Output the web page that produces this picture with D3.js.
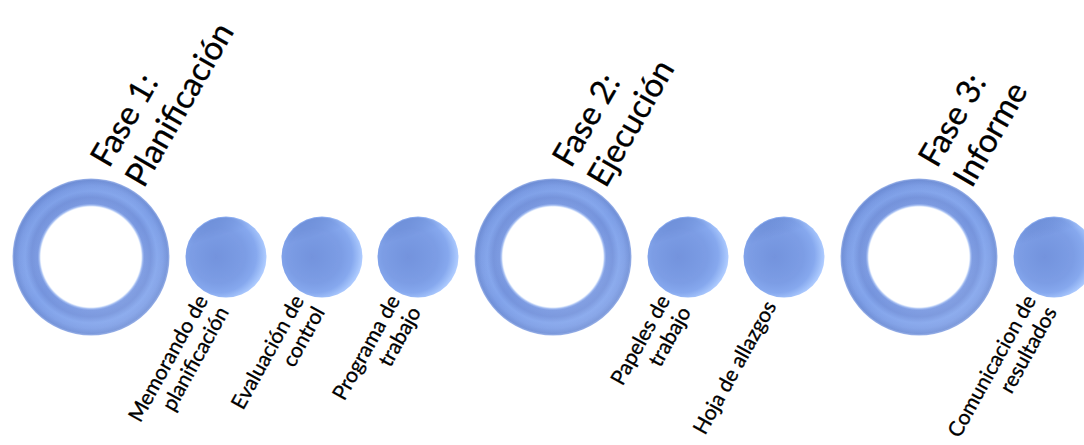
<!DOCTYPE html>
<html>
<head>
<meta charset="utf-8">
<script src="https://cdn.jsdelivr.net/npm/d3@7"></script>
<style>
	html, body { margin: 0; padding: 0; background: #fff; overflow: hidden; }
	#vis { width: 1084px; height: 445px; }
	text { font-family: Lato, "Open Sans", sans-serif; fill: #000; stroke: #000; stroke-width: 0.3px; }
</style>
</head>
<body>
<div id="vis"></div>
<script>
// Phases (big rings) and their steps (small circles)
var phaseTitles = [
	["Fase 1:", "Planificación"],
	["Fase 2:", "Ejecución"],
	["Fase 3:", "Informe"]
];
var stepPhase = [0, 0, 0, 1, 1, 2];
var stepLabels = [
	["Memorando de", "planificación"],
	["Evaluación de", "control"],
	["Programa de", "trabajo"],
	["Papeles de", "trabajo"],
	["Hoja de allazgos"],
	["Comunicacion de", "resultados"]
];

var svg, width, height;

width = 1084;
height = 445;

svg = d3.select('#vis').append('svg')
	.attr('width', width)
	.attr('height', height);

var defs = svg.append('defs');

// ring shading, fractions of the outer radius
var ringGrad = defs.append('radialGradient')
	.attr('id', 'ringGrad')
	.attr('cx', 0.5).attr('cy', 0.5).attr('r', 0.5);
[
	[0.632, '#ffffff', 0],
	[0.645, '#e4edfc', 1],
	[0.66, '#a3bcf1', 1],
	[0.68, '#7a99e1', 1],
	[0.76, '#7493dc', 1],
	[0.84, '#83a5ec', 1],
	[0.91, '#7d9ee6', 1],
	[0.975, '#7090d8', 1],
	[1.0, '#9fb6ea', 1]
].forEach(function(s) {
	ringGrad.append('stop')
		.attr('offset', s[0])
		.attr('stop-color', s[1])
		.attr('stop-opacity', s[2]);
});

// light from the lower right on the ring
var ringLight = defs.append('linearGradient')
	.attr('id', 'ringLight')
	.attr('x1', 0.2).attr('y1', 0.1).attr('x2', 0.8).attr('y2', 0.9);
ringLight.append('stop').attr('offset', 0).attr('stop-color', '#4a6bbf').attr('stop-opacity', 0.12);
ringLight.append('stop').attr('offset', 0.5).attr('stop-color', '#ffffff').attr('stop-opacity', 0);
ringLight.append('stop').attr('offset', 1).attr('stop-color', '#ffffff').attr('stop-opacity', 0.10);

// small circle shading
var dotGrad = defs.append('radialGradient')
	.attr('id', 'dotGrad')
	.attr('cx', 0.42).attr('cy', 0.47).attr('r', 0.62)
	.attr('fx', 0.38).attr('fy', 0.5);
[
	[0, '#7393dd'],
	[0.55, '#7c9de5'],
	[0.75, '#86a8ee'],
	[0.86, '#9dbdf8'],
	[0.93, '#aecbff'],
	[1, '#c8dcff']
].forEach(function(s) {
	dotGrad.append('stop').attr('offset', s[0]).attr('stop-color', s[1]);
});

var dotTop = defs.append('linearGradient')
	.attr('id', 'dotTop')
	.attr('x1', 0.3).attr('y1', 0).attr('x2', 0.6).attr('y2', 1);
dotTop.append('stop').attr('offset', 0).attr('stop-color', '#3f5fae').attr('stop-opacity', 0.35);
dotTop.append('stop').attr('offset', 0.25).attr('stop-color', '#3f5fae').attr('stop-opacity', 0);
dotTop.append('stop').attr('offset', 1).attr('stop-color', '#3f5fae').attr('stop-opacity', 0);

defs.append('filter')
	.attr('id', 'soft')
	.attr('x', -0.1).attr('y', -0.1).attr('width', 1.2).attr('height', 1.2)
	.append('feGaussianBlur')
	.attr('stdDeviation', 0.7);

// build the sequence: ring, its steps, next ring ...
var items = [];
var pos = 0;
phaseTitles.forEach(function(title, p) {
	if (items.length) pos += 1.40625;
	items.push({ type: 'ring', phase: p, u: pos, lines: title });
	stepPhase.forEach(function(sp, i) {
		if (sp === p) {
			pos += (items[items.length - 1].type === 'ring') ? 1.40625 : 1;
			items.push({ type: 'dot', phase: p, u: pos, lines: stepLabels[i] });
		}
	});
});

var x = d3.scaleLinear().domain([0, 1]).range([91, 187]);
var cy = 257;
var ringR = 78.5, holeR = 49.5, dotR = 40.5;

var arc = d3.arc();

var rings = items.filter(function(d) { return d.type === 'ring'; });
var dots = items.filter(function(d) { return d.type === 'dot'; });

var ringG = svg.selectAll('g.ring').data(rings).enter()
	.append('g')
	.attr('class', 'ring')
	.attr('transform', function(d) { return 'translate(' + x(d.u) + ',' + cy + ')'; });

ringG.append('path')
	.attr('d', arc({ innerRadius: holeR, outerRadius: ringR, startAngle: 0, endAngle: 2 * Math.PI }))
	.attr('fill', 'url(#ringGrad)')
	.attr('filter', 'url(#soft)');
ringG.append('path')
	.attr('d', arc({ innerRadius: 53, outerRadius: ringR - 1, startAngle: 0, endAngle: 2 * Math.PI }))
	.attr('fill', 'url(#ringLight)');

var dotG = svg.selectAll('g.dot').data(dots).enter()
	.append('g')
	.attr('class', 'dot')
	.attr('transform', function(d) { return 'translate(' + x(d.u) + ',' + cy + ')'; });

dotG.append('circle')
	.attr('r', dotR)
	.attr('fill', 'url(#dotGrad)')
	.attr('filter', 'url(#soft)');
dotG.append('circle')
	.attr('r', dotR - 1)
	.attr('fill', 'url(#dotTop)');

// phase titles, rotated
var titleSize = 33, titleLead = 40;
svg.selectAll('text.title').data(rings).enter()
	.append('text')
	.attr('class', 'title')
	.attr('transform', function(d) {
		return 'translate(' + (x(d.u) + 18) + ',' + (cy - 88) + ') rotate(-60)';
	})
	.style('font-size', titleSize + 'px')
	.attr('text-anchor', 'start')
	.selectAll('tspan')
	.data(function(d) { return d.lines; })
	.enter()
	.append('tspan')
	.attr('x', 0)
	.attr('y', function(l, i) { return i * titleLead; })
	.text(function(l) { return l; });

// step labels, rotated, right aligned, centred on the block
var labelSize = 21, labelLead = 24;
svg.selectAll('text.label').data(dots).enter()
	.append('text')
	.attr('class', 'label')
	.attr('transform', function(d) {
		return 'translate(' + (x(d.u) - 7) + ',' + 306 + ') rotate(-61)';
	})
	.style('font-size', labelSize + 'px')
	.attr('text-anchor', 'end')
	.each(function(d) {
		var n = d.lines.length;
		d3.select(this).selectAll('tspan')
			.data(d.lines)
			.enter()
			.append('tspan')
			.attr('x', 0)
			.attr('y', function(l, i) { return (i - (n - 1) / 2) * labelLead; })
			.text(function(l) { return l; });
	});
</script>
</body>
</html>
